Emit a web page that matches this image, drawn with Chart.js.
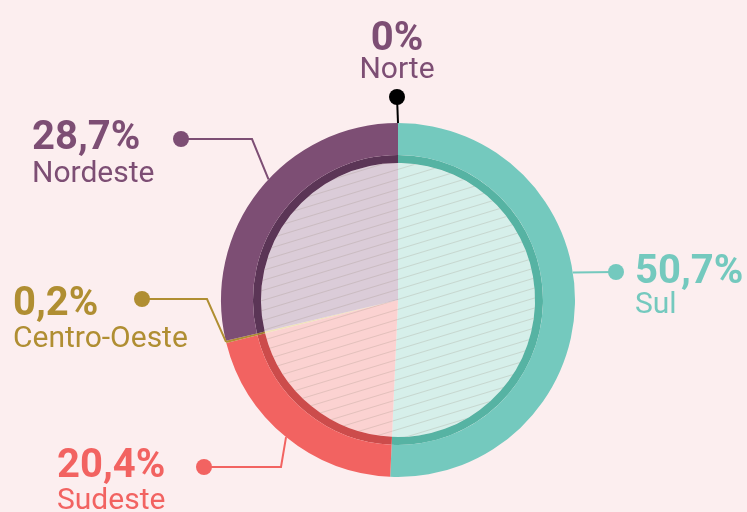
<!DOCTYPE html>
<html lang="pt-BR">
<head>
<meta charset="utf-8">
<title>Distribuição por região</title>
<script src="https://cdn.jsdelivr.net/npm/chart.js@4.4.1/dist/chart.umd.min.js"></script>
<style>
    html, body {
        margin: 0;
        padding: 0;
        background: #fceeef;
    }
    #chartBox {
        position: relative;
        width: 747px;
        height: 512px;
        overflow: hidden;
    }
</style>
</head>
<body>
<div id="chartBox">
    <canvas id="regionChart" width="747" height="512"></canvas>
</div>
<script>
// Data
const regions = ['Sul', 'Sudeste', 'Centro-Oeste', 'Nordeste', 'Norte'];
const shares = [50.7, 20.4, 0.2, 28.7, 0];

// Colours: outer ring, thin dark band, hatched inner pie
const ringColors = ['#74c9be', '#f26361', '#b08e32', '#7d4e74', '#000000'];
const bandColors = ['#56b3a3', '#cc4c4b', '#9c7c28', '#5b3556', '#000000'];
const pieColors = ['#d6efea', '#fbd2d1', '#efe3ba', '#dbccd8', '#ffffff'];
const textColors = ['#74c9be', '#f26361', '#b08e32', '#7d4e74', '#7d4e74'];

// Where each label sits (frac = point along the slice where the leader starts)
const labelLayout = [
    { frac: 0.444, elbow: null,       dot: [616, 272], textX: 635, align: 'left',   pctY: 283, nameY: 313 },
    { frac: 0.5,   elbow: [281, 467], dot: [204, 467], textX: 57,  align: 'left',   pctY: 477, nameY: 509 },
    { frac: 0.5,   elbow: [207, 299], dot: [142, 299], textX: 13,  align: 'left',   pctY: 315, nameY: 347 },
    { frac: 0.545, elbow: [252, 139], dot: [181, 139], textX: 32,  align: 'left',   pctY: 149, nameY: 182 },
    { frac: 0,     elbow: null,       dot: [397, 97],  textX: 397, align: 'center', pctY: 50,  nameY: 78 }
];

function hatch(color) {
    const tile = document.createElement('canvas');
    tile.width = 33;
    tile.height = 10;
    const c = tile.getContext('2d');
    c.fillStyle = color;
    c.fillRect(0, 0, tile.width, tile.height);
    c.strokeStyle = 'rgba(150, 140, 120, 0.24)';
    c.lineWidth = 1;
    [-10, 0, 10].forEach(dy => {
        c.beginPath();
        c.moveTo(0, 10 + dy);
        c.lineTo(33, dy);
        c.stroke();
    });
    return c.createPattern(tile, 'repeat');
}

function formatShare(v) {
    return String(v).replace('.', ',') + '%';
}

const leaderLabels = {
    id: 'leaderLabels',
    afterDatasetsDraw(chart) {
        const ctx = chart.ctx;
        const meta = chart.getDatasetMeta(0);
        meta.data.forEach((arc, i) => {
            const p = arc.getProps(['x', 'y', 'startAngle', 'endAngle', 'outerRadius'], true);
            const lay = labelLayout[i];
            const a = p.startAngle + (p.endAngle - p.startAngle) * lay.frac;
            const ax = p.x + Math.cos(a) * p.outerRadius;
            const ay = p.y + Math.sin(a) * p.outerRadius;
            const lineColor = ringColors[i];

            ctx.save();
            ctx.strokeStyle = lineColor;
            ctx.fillStyle = lineColor;
            ctx.lineWidth = 2;
            ctx.beginPath();
            ctx.moveTo(ax, ay);
            if (lay.elbow) ctx.lineTo(lay.elbow[0], lay.elbow[1]);
            ctx.lineTo(lay.dot[0], lay.dot[1]);
            ctx.stroke();
            ctx.beginPath();
            ctx.arc(lay.dot[0], lay.dot[1], 8, 0, Math.PI * 2);
            ctx.fill();

            ctx.fillStyle = textColors[i];
            ctx.textAlign = lay.align;
            ctx.textBaseline = 'alphabetic';
            ctx.font = 'bold 40px Roboto, "Liberation Sans", sans-serif';
            ctx.fillText(formatShare(shares[i]), lay.textX, lay.pctY);
            ctx.font = '30px Roboto, "Liberation Sans", sans-serif';
            ctx.fillText(regions[i], lay.textX, lay.nameY);
            ctx.restore();
        });
    }
};

const arcStyle = {
    borderWidth: 0,
    hoverOffset: 0,
    offset: 0
};

new Chart(document.getElementById('regionChart'), {
    type: 'doughnut',
    data: {
        labels: regions,
        datasets: [
            Object.assign({ data: shares, backgroundColor: ringColors, weight: 32 }, arcStyle),
            Object.assign({ data: shares, backgroundColor: bandColors, weight: 8 }, arcStyle),
            Object.assign({ data: shares, backgroundColor: pieColors.map(hatch), weight: 137 }, arcStyle)
        ]
    },
    options: {
        responsive: false,
        devicePixelRatio: 1,
        animation: false,
        cutout: 0,
        radius: 177,
        layout: {
            padding: { left: 221, right: 172, top: 123, bottom: 35 }
        },
        plugins: {
            legend: { display: false },
            tooltip: { enabled: false }
        },
        events: []
    },
    plugins: [leaderLabels]
});
</script>
</body>
</html>
